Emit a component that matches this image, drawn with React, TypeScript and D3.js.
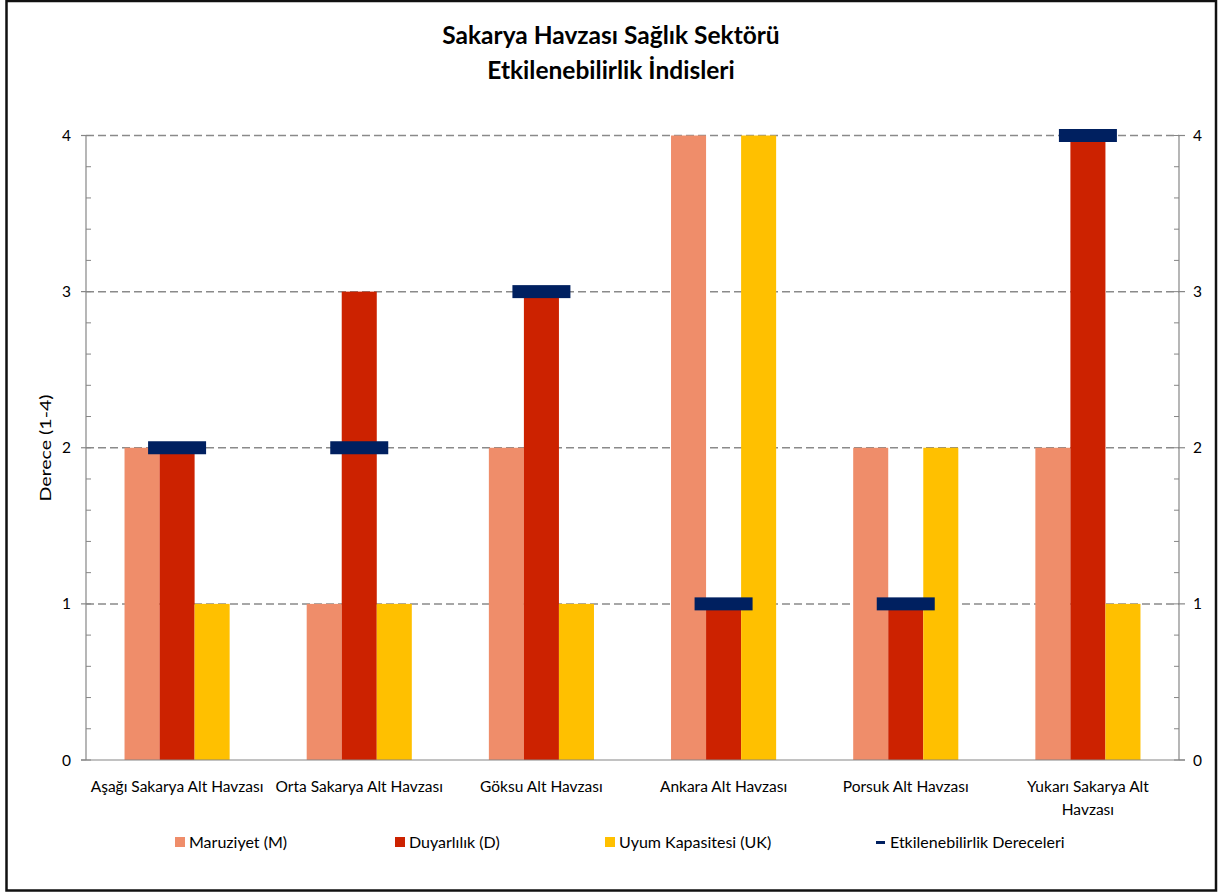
import React from "react";
import * as d3 from "d3";

const categories: string[][] = [
  ["Aşağı Sakarya Alt Havzası"],
  ["Orta Sakarya Alt Havzası"],
  ["Göksu Alt Havzası"],
  ["Ankara Alt Havzası"],
  ["Porsuk Alt Havzası"],
  ["Yukarı Sakarya Alt", "Havzası"],
];
const maruziyet = [2, 1, 2, 4, 2, 2];
const duyarlilik = [2, 3, 3, 1, 1, 4];
const uyum = [1, 1, 1, 4, 2, 1];
const etkilenebilirlik = [2, 2, 3, 1, 1, 4];
const yTicks = [0, 1, 2, 3, 4];
const yMinorTicks = d3.range(0, 4.0001, 0.2);

const seriesNames = ["Maruziyet (M)", "Duyarlılık (D)", "Uyum Kapasitesi (UK)"];
const lineName = "Etkilenebilirlik Dereceleri";
const titleLines = ["Sakarya Havzası Sağlık Sektörü", "Etkilenebilirlik İndisleri"];
const yTitle = "Derece (1-4)";

const COLORS = ["#EF8D6A", "#CC2200", "#FFC000"];
const NAVY = "#002060";
const FONT = "Lato, 'Open Sans', sans-serif";
const AXIS = "#868686";

export default function App() {
  const W = 1219;
  const H = 894;
  const left = 86;
  const right = 1179;
  const top = 135.5;
  const bottom = 760;

  const x = d3
    .scaleBand<number>()
    .domain(categories.map((_, i) => i))
    .range([left, right])
    .paddingInner(0.423)
    .paddingOuter(0.2115);
  const inner = d3
    .scaleBand<number>()
    .domain([0, 1, 2])
    .range([0, x.bandwidth()]);
  const y = d3.scaleLinear().domain([0, 4]).range([bottom, top]);

  const series = [maruziyet, duyarlilik, uyum];

  const legendItems = [
    { x: 175, label: seriesNames[0], color: COLORS[0], type: "box" },
    { x: 395, label: seriesNames[1], color: COLORS[1], type: "box" },
    { x: 605, label: seriesNames[2], color: COLORS[2], type: "box" },
    { x: 876, label: lineName, color: NAVY, type: "line" },
  ];

  return (
    <svg
      width={W}
      height={H}
      style={{ position: "absolute", left: 0, top: 0, background: "#fff" }}
      fontFamily={FONT}
    >
      <rect x={0} y={0} width={W} height={H} fill="#fff" />
      <rect x={6.5} y={1} width={1209.5} height={889.5} fill="none" stroke="#111" strokeWidth={2.5} />

      {titleLines.map((t, i) => (
        <text
          key={"title" + i}
          x={611}
          y={44 + i * 35}
          textAnchor="middle"
          fontSize={24.5}
          fontWeight="bold"
          fill="#000"
        >
          {t}
        </text>
      ))}

      {/* gridlines */}
      {yTicks.filter((t) => t > 0).map((t) => (
        <line
          key={"g" + t}
          x1={left}
          x2={right}
          y1={y(t)}
          y2={y(t)}
          stroke="#8a8a8a"
          strokeWidth={1.5}
          strokeDasharray="8,4"
        />
      ))}

      {/* bars */}
      {series.map((vals, s) =>
        vals.map((v, i) => (
          <rect
            key={`b${s}-${i}`}
            x={(x(i) as number) + (inner(s) as number)}
            y={y(v)}
            width={inner.bandwidth()}
            height={y(0) - y(v)}
            fill={COLORS[s]}
          />
        ))
      )}

      {/* axes */}
      <line x1={left} x2={left} y1={top} y2={bottom} stroke={AXIS} strokeWidth={1.2} />
      <line x1={right} x2={right} y1={top} y2={bottom} stroke={AXIS} strokeWidth={1.2} />
      <line x1={left - 5} x2={right + 6} y1={bottom} y2={bottom} stroke={AXIS} strokeWidth={1.2} />
      {yMinorTicks.map((t, i) => (
        <g key={"mt" + i}>
          <line x1={left} x2={left + 5} y1={y(t)} y2={y(t)} stroke={AXIS} />
          <line x1={right - 5} x2={right} y1={y(t)} y2={y(t)} stroke={AXIS} />
        </g>
      ))}
      {yTicks.map((t) => (
        <g key={"t" + t}>
          <line x1={left - 5} x2={left} y1={y(t)} y2={y(t)} stroke={AXIS} strokeWidth={1.2} />
          <line x1={right} x2={right + 6} y1={y(t)} y2={y(t)} stroke={AXIS} strokeWidth={1.2} />
          <text x={left - 15} y={y(t) + 5.5} textAnchor="end" fontSize={15.5} fill="#000">
            {t}
          </text>
          <text x={right + 14} y={y(t) + 5.5} textAnchor="start" fontSize={15.5} fill="#000">
            {t}
          </text>
        </g>
      ))}

      {/* markers */}
      {etkilenebilirlik.map((v, i) => {
        const cx = (x(i) as number) + x.bandwidth() / 2;
        return (
          <rect
            key={"m" + i}
            x={cx - 29}
            y={y(v) - 6.5}
            width={58}
            height={13}
            fill={NAVY}
          />
        );
      })}

      {/* x labels */}
      {categories.map((lines, i) => {
        const cx = (x(i) as number) + x.bandwidth() / 2;
        return (
          <text key={"x" + i} x={cx} y={792} textAnchor="middle" fontSize={15.5} fill="#000">
            {lines.map((l, k) => (
              <tspan key={k} x={cx} dy={k === 0 ? 0 : 23}>
                {l}
              </tspan>
            ))}
          </text>
        );
      })}

      <text
        transform={`translate(51,${448}) rotate(-90)`}
        textAnchor="middle"
        fontSize={16}
        fill="#000"
        textLength={107}
        lengthAdjust="spacingAndGlyphs"
      >
        {yTitle}
      </text>

      {/* legend */}
      {legendItems.map((it) => (
        <g key={it.label}>
          {it.type === "box" ? (
            <rect x={it.x} y={837} width={10} height={10} fill={it.color} />
          ) : (
            <rect x={it.x} y={841} width={9} height={3} fill={it.color} />
          )}
          <text x={it.x + 14} y={848} fontSize={16} fill="#000">
            {it.label}
          </text>
        </g>
      ))}
    </svg>
  );
}
